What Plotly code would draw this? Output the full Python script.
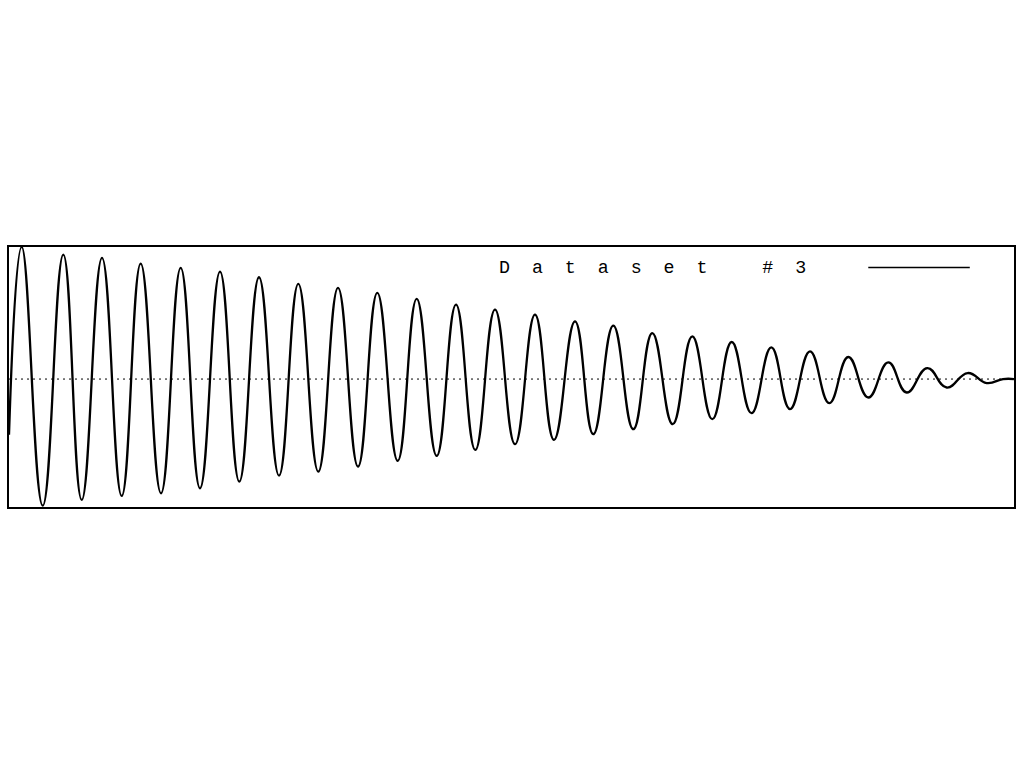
import plotly.graph_objects as go

# Turning points of the damped oscillation (time index, amplitude)
turn_t = [0, 12.7, 33.7, 54.3, 72.7, 93, 112.7, 131.7, 152, 171.7, 191, 211, 230.3,
          250, 270, 289.3, 309.3, 329, 349, 368.3, 388.7, 407.7, 427.7, 447, 466.3,
          486, 506, 526, 545, 566, 584.3, 604.3, 624.3, 643.3, 663.7, 683.3, 703.3,
          722.7, 742.5, 762.3, 781, 801, 820.3, 839.3, 859.3, 879.3, 897.7, 918.3,
          937.7, 958.7, 977.7, 994, 1005]
turn_v = [-0.435, 1.031, -0.988, 0.971, -0.943, 0.945, -0.912, 0.901, -0.891, 0.867,
          -0.852, 0.838, -0.800, 0.794, -0.753, 0.742, -0.722, 0.711, -0.683, 0.672,
          -0.638, 0.625, -0.599, 0.580, -0.552, 0.541, -0.508, 0.502, -0.474, 0.450,
          -0.430, 0.416, -0.391, 0.359, -0.352, 0.333, -0.313, 0.289, -0.266, 0.247,
          -0.234, 0.216, -0.188, 0.172, -0.144, 0.130, -0.105, 0.086, -0.066, 0.047,
          -0.031, 0.0, 0.0]

series_name = "Dataset #3"
x_range = [0, 1005]
y_range = [-0.998, 1.03]

fig = go.Figure()
fig.add_trace(go.Scatter(
    x=turn_t, y=turn_v, mode="lines", name=series_name,
    line=dict(color="black", width=2.3, shape="spline", smoothing=1.3),
    showlegend=False,
))

# dotted zero line
fig.add_shape(type="line", xref="paper", yref="y", x0=0, x1=1, y0=0, y1=0,
              line=dict(color="black", width=1, dash="2px,4px"))

# legend: text followed by line sample (as in the original)
spaced = "\u00a0\u00a0".join(list(series_name.replace(" ", "\u00a0")))
fig.add_annotation(xref="paper", yref="paper", x=0.4856, y=0.918,
                   xanchor="left", yanchor="middle", showarrow=False,
                   text=spaced,
                   font=dict(family="Liberation Mono", size=18.3, color="black"))
fig.add_shape(type="line", xref="paper", yref="paper", x0=0.855, x1=0.956,
              y0=0.921, y1=0.921, line=dict(color="black", width=1.5))

axis_common = dict(showline=True, mirror=True, linecolor="black", linewidth=2,
                   showgrid=False, zeroline=False, showticklabels=False, ticks="")
fig.update_xaxes(range=x_range, **axis_common)
fig.update_yaxes(range=y_range, **axis_common)

fig.update_layout(
    width=1024, height=768,
    margin=dict(l=9, r=10, t=247, b=261),
    paper_bgcolor="white", plot_bgcolor="white",
)

fig.write_html("out.html", config={"displayModeBar": False},
               post_script="document.body.style.margin='0';")
